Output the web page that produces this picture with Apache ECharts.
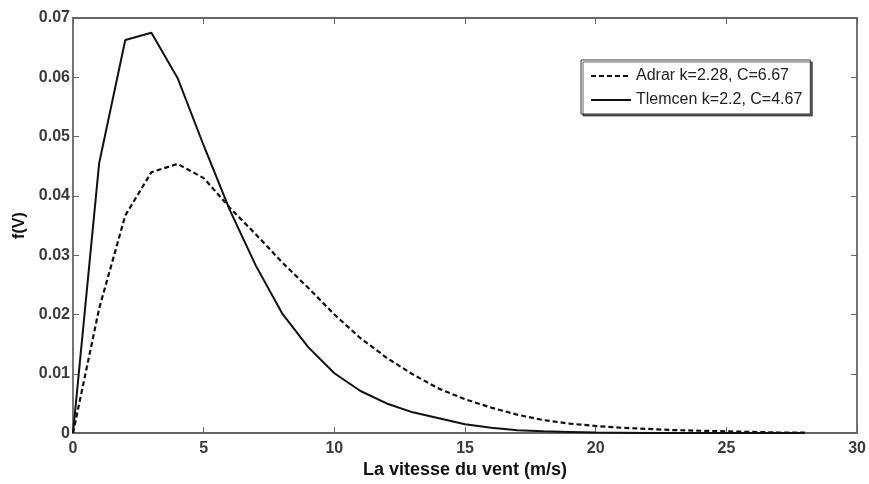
<!DOCTYPE html>
<html>
<head>
<meta charset="utf-8">
<script src="https://cdn.jsdelivr.net/npm/echarts@6/dist/echarts.min.js"></script>
<style>
html,body{margin:0;padding:0;background:#fff;}
#chart{width:869px;height:484px;}
</style>
</head>
<body>
<div id="chart"></div>
<script>
var windSpeed = [0,1,2,3,4,5,6,7,8,9,10,11,12,13,14,15,16,17,18,19,20,21,22,23,24,25,26,27,28];
var adrarF = [0,0.0210,0.0367,0.0440,0.0454,0.0430,0.0380,0.0335,0.0288,0.0245,0.0200,0.0160,0.0127,0.0099,0.0075,0.0057,0.0043,0.0031,0.0022,0.0016,0.0012,0.0009,0.0007,0.0005,0.0004,0.0003,0.0002,0.0001,0.0001];
var tlemcenF = [0,0.0455,0.0663,0.0675,0.0599,0.0485,0.0376,0.0282,0.0202,0.0145,0.0101,0.0071,0.0050,0.0035,0.0025,0.0015,0.0009,0.0005,0.0003,0.0002,0.0001,0.00005,0,0,0,0,0,0,0];
var adrarName = 'Adrar k=2.28, C=6.67';
var tlemcenName = 'Tlemcen k=2.2, C=4.67';
var xTitle = 'La vitesse du vent (m/s)';
var yTitle = 'f(V)';

function pairs(xs, ys){ return xs.map(function(x,i){ return [x, ys[i]]; }); }

var axisColor = '#666';
var labelStyle = {color:'#3a3a3a', fontFamily:'Liberation Sans', fontSize:16, fontWeight:'bold'};

var chart = echarts.init(document.getElementById('chart'), null, {renderer:'canvas'});
chart.setOption({
  backgroundColor:'#fff',
  animation:false,
  grid:{left:73, right:11, top:18, bottom:48, containLabel:false},
  xAxis:[{
    type:'value', min:0, max:30, interval:5, position:'bottom',
    name:xTitle, nameLocation:'middle', nameGap:22,
    nameTextStyle:{color:'#111', fontFamily:'Liberation Sans', fontSize:18, fontWeight:'bold'},
    axisLine:{show:true, onZero:false, lineStyle:{color:axisColor, width:1.8}},
    axisTick:{show:true, inside:true, length:6, lineStyle:{color:axisColor}},
    axisLabel:Object.assign({margin:7}, labelStyle),
    splitLine:{show:false}
  },{
    type:'value', min:0, max:30, interval:5, position:'top',
    axisLine:{show:true, onZero:false, lineStyle:{color:axisColor, width:1.8}},
    axisTick:{show:true, inside:true, length:6, lineStyle:{color:axisColor}},
    axisLabel:{show:false}, splitLine:{show:false}
  }],
  yAxis:[{
    type:'value', min:0, max:0.07, interval:0.01, position:'left',
    name:yTitle, nameLocation:'middle', nameGap:45, nameRotate:90,
    nameTextStyle:{color:'#111', fontFamily:'Liberation Sans', fontSize:16, fontWeight:'bold'},
    axisLine:{show:true, onZero:false, lineStyle:{color:axisColor, width:1.8}},
    axisTick:{show:true, inside:true, length:6, lineStyle:{color:axisColor}},
    axisLabel:Object.assign({margin:3, formatter:function(v){ return v===0 ? '0' : v.toFixed(2); }}, labelStyle),
    splitLine:{show:false}
  },{
    type:'value', min:0, max:0.07, interval:0.01, position:'right',
    axisLine:{show:true, onZero:false, lineStyle:{color:axisColor, width:1.8}},
    axisTick:{show:true, inside:true, length:6, lineStyle:{color:axisColor}},
    axisLabel:{show:false}, splitLine:{show:false}
  }],
  legend:{
    orient:'vertical', left:581, top:60,
    padding:[8,8,6,9], itemGap:8, itemWidth:40, itemHeight:16,
    backgroundColor:'#fff', borderColor:'#333', borderWidth:1,
    shadowColor:'rgba(0,0,0,0.6)', shadowOffsetX:2, shadowOffsetY:2, shadowBlur:0,
    itemStyle:{opacity:0},
    textStyle:{color:'#222', fontFamily:'Liberation Sans', fontSize:16},
    data:[adrarName, tlemcenName]
  },
  series:[{
    name:adrarName, type:'line', xAxisIndex:0, yAxisIndex:0,
    data:pairs(windSpeed, adrarF), symbol:'none', smooth:false,
    lineStyle:{color:'#111', width:2.2, type:[5,3]}, itemStyle:{color:'#111'}
  },{
    name:tlemcenName, type:'line', xAxisIndex:0, yAxisIndex:0,
    data:pairs(windSpeed, tlemcenF), symbol:'none', smooth:false,
    lineStyle:{color:'#111', width:2}, itemStyle:{color:'#111'}
  }]
});
</script>
</body>
</html>
